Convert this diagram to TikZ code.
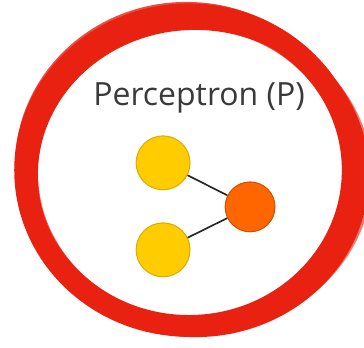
\documentclass[tikz,border=0pt]{standalone}
\usepackage{fontspec}
\setsansfont{Open Sans}
\usepackage{xcolor}
\usetikzlibrary{positioning}

\definecolor{brushred}{RGB}{233,33,17}
\definecolor{inyellow}{RGB}{255,204,0}
\definecolor{outorange}{RGB}{255,102,0}
\definecolor{titlegray}{RGB}{58,58,58}

\begin{document}
\begin{tikzpicture}[
  neuron/.style={circle, draw, line width=0.8pt, inner sep=0pt},
  inneuron/.style={neuron, fill=inyellow, draw=inyellow!85!black, minimum size=1.48cm},
  outneuron/.style={neuron, fill=outorange, draw=outorange!80!black, minimum size=1.37cm},
  link/.style={line width=1.3pt, draw=black!85},
  ttl/.style={font=\sffamily\fontsize{25}{28}\selectfont, text=titlegray, inner sep=0pt}
]
\useasboundingbox (0,0) rectangle (10,9.533);

% brush ring
\draw[brushred, line width=17pt] (5.19,4.86) ellipse [x radius=4.50cm, y radius=4.28cm];
\draw[brushred, line width=13pt] (5.36,4.72) ellipse [x radius=4.55cm, y radius=4.22cm];
\draw[brushred, line width=4pt, opacity=0.8] (5.12,4.97) ellipse [x radius=4.64cm, y radius=4.44cm];
\draw[brushred, line width=3pt, opacity=0.7] (5.25,4.80) ellipse [x radius=4.26cm, y radius=4.02cm];
\draw[brushred, line width=2pt, opacity=0.6] (5.40,4.70) ellipse [x radius=4.78cm, y radius=4.30cm];

% title
\node[ttl] (title) at (5.47,6.84) {Perceptron (P)};

% neurons
\node[inneuron] (in1) at (4.48,5.06) {};
\node[inneuron] (in2) at (4.48,2.67) {};
\node[outneuron] (out) at (6.87,3.85) {};

\draw[link] (in1) -- (out);
\draw[link] (in2) -- (out);

\end{tikzpicture}
\end{document}
